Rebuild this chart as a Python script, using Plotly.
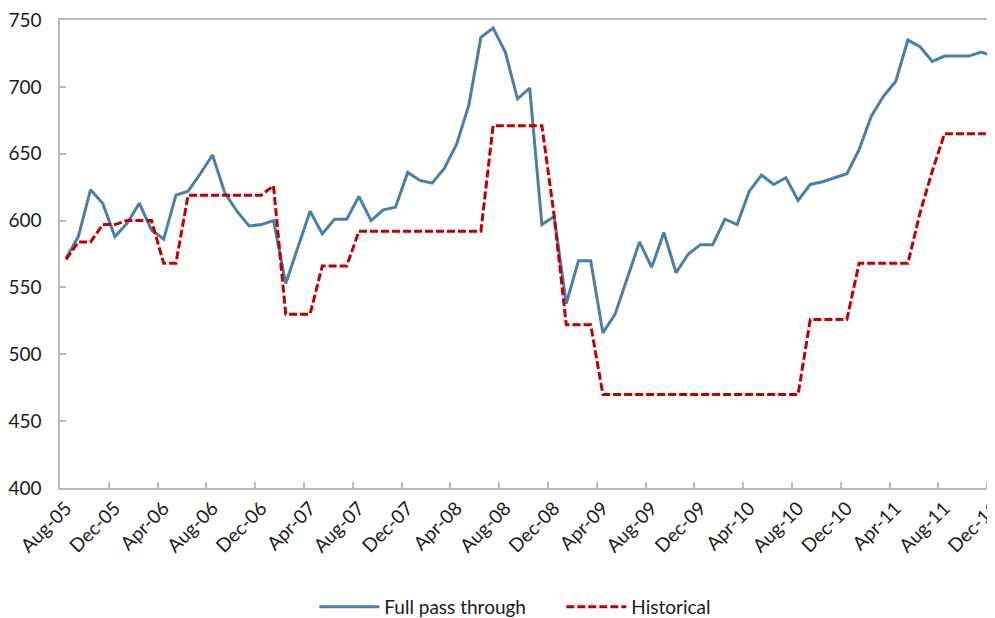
import pandas as pd
import plotly.graph_objects as go

months = list(pd.date_range("2005-08-01", periods=77, freq="MS").strftime("%b-%y"))

full_pass_through = [
    572, 588, 623, 613, 588, 598, 613, 593, 586, 619,
    622, 635, 649, 621, 607, 596, 597, 600, 553, 580,
    607, 590, 601, 601, 618, 600, 608, 610, 636, 630,
    628, 639, 657, 686, 737, 744, 726, 691, 699, 597,
    603, 538, 570, 570, 516, 530, 557, 584, 565, 591,
    561, 575, 582, 582, 601, 597, 622, 634, 627, 632,
    615, 627, 629, 632, 635, 653, 678, 693, 704, 735,
    730, 719, 723, 723, 723, 726, 723,
]

historical = [
    571, 584, 584, 597, 597, 600, 600, 600, 568, 568,
    619, 619, 619, 619, 619, 619, 619, 626, 530, 530,
    530, 566, 566, 566, 592, 592, 592, 592, 592, 592,
    592, 592, 592, 592, 592, 671, 671, 671, 671, 671,
    604, 522, 522, 522, 470, 470, 470, 470, 470, 470,
    470, 470, 470, 470, 470, 470, 470, 470, 470, 470,
    470, 526, 526, 526, 526, 568, 568, 568, 568, 568,
    606, 637, 665, 665, 665, 665, 665,
]

tick_labels = months[::4]
y_ticks = [400, 450, 500, 550, 600, 650, 700, 750]

FONT = "Lato, 'Open Sans', sans-serif"
AXIS_COLOR = "#b9b9b9"
TEXT_COLOR = "#1a1a1a"

fig = go.Figure()
fig.add_trace(go.Scatter(
    x=months, y=full_pass_through, mode="lines", name="Full pass through",
    line=dict(color="#4a7eab", width=3),
))
fig.add_trace(go.Scatter(
    x=months, y=historical, mode="lines", name="Historical",
    line=dict(color="#c00000", width=3, dash="8px,3px"),
))

# the page adds an 8px body margin, so the figure is sized/offset to compensate
fig.update_layout(
    width=987, height=610,
    margin=dict(l=52, r=0, t=12, b=130, autoexpand=False),
    paper_bgcolor="white", plot_bgcolor="white",
    font=dict(family=FONT, size=19, color=TEXT_COLOR),
    showlegend=True,
    legend=dict(
        orientation="h", x=0.272, xanchor="left",
        yref="container", y=0.018, yanchor="middle",
        font=dict(size=19, color=TEXT_COLOR), itemwidth=60,
        entrywidth=172, entrywidthmode="pixels",
        traceorder="normal", tracegroupgap=0,
    ),
)

fig.update_xaxes(
    type="category", categoryorder="array", categoryarray=months,
    range=[-0.5, 76.14],
    tickvals=tick_labels, ticktext=tick_labels, tickangle=-45,
    tickson="boundaries",
    ticks="inside", ticklen=6, tickcolor=AXIS_COLOR, tickwidth=1.5,
    showline=True, linecolor=AXIS_COLOR, linewidth=1.5, mirror=True,
    showgrid=False, zeroline=False,
    tickfont=dict(family=FONT, size=19, color=TEXT_COLOR),
)
fig.update_yaxes(
    range=[400, 750], tickvals=y_ticks,
    ticks="inside", ticklen=6, tickcolor=AXIS_COLOR, tickwidth=1.5,
    showline=True, linecolor=AXIS_COLOR, linewidth=1.5,
    showgrid=False, zeroline=False,
    ticklabelstandoff=13, ticklabeloverflow="allow",
    tickfont=dict(family=FONT, size=19, color=TEXT_COLOR),
)

fig.write_html("out.html")
